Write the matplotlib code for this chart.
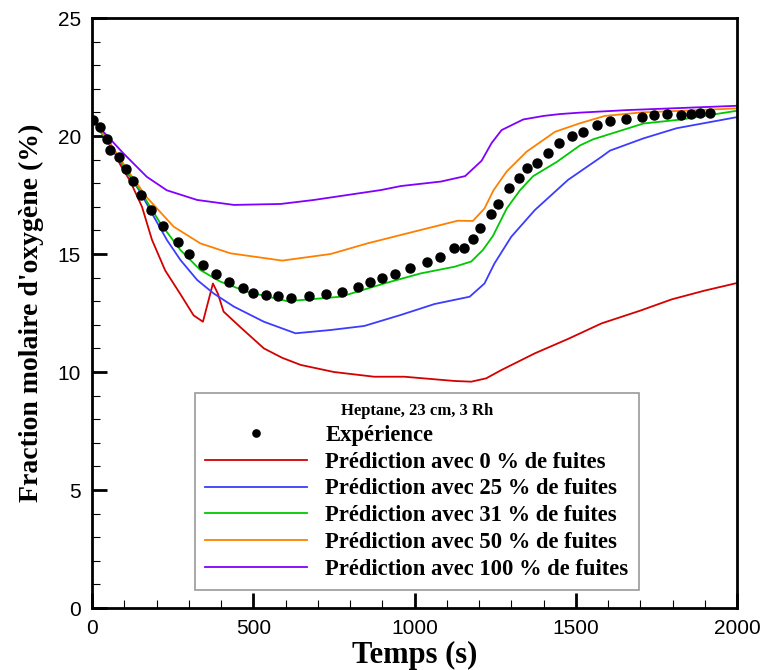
import matplotlib
matplotlib.use("Agg")
import matplotlib.pyplot as plt
from matplotlib.ticker import MultipleLocator

# ---------------- data ----------------
t_exp = [2, 25, 46, 57, 83, 106, 128, 152, 184, 219, 266, 300, 343, 384, 425, 469, 499,
         538, 576, 616, 672, 725, 776, 826, 862, 900, 938, 987, 1038, 1080, 1124, 1152,
         1181, 1202, 1236, 1259, 1294, 1323, 1350, 1379, 1413, 1448, 1487, 1524, 1567,
         1607, 1657, 1704, 1743, 1784, 1827, 1858, 1885, 1917]
o2_exp = [20.68, 20.4, 19.86, 19.4, 19.1, 18.62, 18.1, 17.5, 16.86, 16.2, 15.5, 15.0,
          14.55, 14.17, 13.8, 13.55, 13.33, 13.28, 13.2, 13.14, 13.2, 13.3, 13.4, 13.6,
          13.8, 13.97, 14.15, 14.4, 14.66, 14.87, 15.24, 15.27, 15.64, 16.09, 16.7, 17.12,
          17.8, 18.2, 18.66, 18.87, 19.3, 19.72, 20.02, 20.18, 20.45, 20.62, 20.72, 20.82,
          20.87, 20.92, 20.9, 20.95, 20.96, 20.99]

t_0 = [0, 50, 87, 118, 155, 186, 227, 274, 315, 344, 375, 390, 408, 460, 533, 590, 647,
       750, 875, 968, 1124, 1176, 1222, 1269, 1373, 1476, 1580, 1700, 1798, 1900, 2000]
o2_0 = [20.7, 19.9, 18.8, 18.1, 17.0, 15.6, 14.3, 13.3, 12.4, 12.13, 13.75, 13.33, 12.56,
        11.9, 11.0, 10.6, 10.3, 10.0, 9.8, 9.8, 9.62, 9.59, 9.73, 10.08, 10.79, 11.4,
        12.06, 12.6, 13.08, 13.45, 13.77]

t_25 = [0, 46, 118, 149, 186, 232, 274, 326, 377, 440, 533, 631, 740, 844, 958, 1062,
        1171, 1217, 1248, 1300, 1373, 1476, 1580, 1606, 1710, 1813, 2000]
o2_25 = [20.7, 19.8, 18.27, 17.64, 16.72, 15.6, 14.75, 13.9, 13.33, 12.77, 12.13, 11.64,
         11.78, 11.95, 12.42, 12.88, 13.19, 13.75, 14.6, 15.73, 16.86, 18.14, 19.12,
         19.38, 19.9, 20.33, 20.8]

t_31 = [0, 46, 118, 149, 212, 274, 336, 398, 481, 606, 771, 906, 1020, 1124, 1176, 1212,
        1243, 1286, 1327, 1368, 1441, 1513, 1554, 1710, 1828, 2000]
o2_31 = [20.7, 19.85, 18.3, 17.7, 16.3, 15.17, 14.32, 13.83, 13.4, 13.0, 13.19, 13.75,
         14.18, 14.46, 14.68, 15.17, 15.76, 16.93, 17.7, 18.3, 18.9, 19.6, 19.86, 20.53,
         20.7, 21.07]

t_50 = [0, 46, 118, 170, 253, 336, 429, 590, 740, 854, 979, 1134, 1181, 1217, 1245, 1286,
        1348, 1436, 1513, 1590, 1704, 1850, 2000]
o2_50 = [20.7, 19.9, 18.4, 17.4, 16.16, 15.45, 15.03, 14.72, 15.0, 15.45, 15.88, 16.41,
         16.4, 16.93, 17.7, 18.5, 19.34, 20.18, 20.54, 20.85, 21.0, 21.08, 21.17]

t_100 = [0, 97, 170, 232, 326, 440, 585, 688, 792, 896, 958, 1082, 1157, 1208, 1239, 1270,
         1337, 1400, 1451, 1513, 1663, 2000]
o2_100 = [20.7, 19.27, 18.27, 17.7, 17.29, 17.08, 17.12, 17.29, 17.5, 17.71, 17.88, 18.07,
          18.3, 18.95, 19.7, 20.25, 20.7, 20.85, 20.93, 20.99, 21.1, 21.28]

legend_title = "Heptane, 23 cm, 3 Rh"
lbl_exp = "Expérience"
labels = ["Prédiction avec 0 % de fuites", "Prédiction avec 25 % de fuites",
          "Prédiction avec 31 % de fuites", "Prédiction avec 50 % de fuites",
          "Prédiction avec 100 % de fuites"]
colors = ["#d40000", "#3c3cff", "#00c800", "#ff8000", "#8000ff"]

# ---------------- plot ----------------
fig = plt.figure(figsize=(7.63, 6.70), dpi=100)
ax = fig.add_axes([92 / 763, 1 - 608 / 670, (737 - 92) / 763, (608 - 18) / 670])

h_exp, = ax.plot(t_exp, o2_exp, "o", color="black", markersize=6.5, label=lbl_exp, zorder=5)
series = [(t_0, o2_0), (t_25, o2_25), (t_31, o2_31), (t_50, o2_50), (t_100, o2_100)]
handles = [h_exp]
for (tt, yy), c, l in zip(series, colors, labels):
    h, = ax.plot(tt, yy, "-", color=c, linewidth=1.3, label=l)
    handles.append(h)

ax.set_xlim(0, 2000)
ax.set_ylim(0, 25)
ax.xaxis.set_major_locator(MultipleLocator(500))
ax.xaxis.set_minor_locator(MultipleLocator(100))
ax.yaxis.set_major_locator(MultipleLocator(5))
ax.yaxis.set_minor_locator(MultipleLocator(1))
ax.tick_params(which="both", direction="in", top=False, right=False)
ax.tick_params(which="major", length=11, width=2, labelsize=15, pad=8)
ax.tick_params(which="minor", length=5.5, width=0.8)
for lab in ax.get_xticklabels() + ax.get_yticklabels():
    lab.set_family("Liberation Sans")
for s in ax.spines.values():
    s.set_linewidth(2)

serif = "Liberation Serif"
ax.set_xlabel("Temps (s)", fontsize=22, fontweight="bold", family=serif, labelpad=2)
ax.set_ylabel("Fraction molaire d'oxygène (%)", fontsize=20, fontweight="bold",
              family=serif, labelpad=10)

leg = ax.legend(handles=handles, loc="lower left", bbox_to_anchor=(0.16, 0.03),
                borderaxespad=0, frameon=True, fancybox=False, edgecolor="#808080",
                prop={"family": serif, "weight": "bold", "size": 16.3},
                title=legend_title,
                title_fontproperties={"family": serif, "weight": "bold", "size": 12},
                handlelength=4.5, handletextpad=0.8, labelspacing=0.26,
                borderpad=0.45, numpoints=1, markerscale=0.8)
leg.get_frame().set_linewidth(1.2)

fig.savefig("out.png", dpi=100)
